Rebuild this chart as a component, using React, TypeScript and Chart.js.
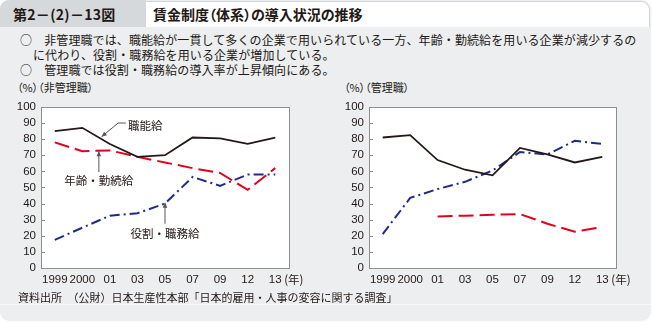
import React, { useEffect, useRef } from "react";
import { Chart, registerables } from "chart.js";

Chart.register(...registerables);

// ---- data ----
const categories = ["1999", "2000", "01", "03", "05", "07", "09", "12", "13"];
const nonMgrShokuno = [85, 87, 77, 69, 70, 81, 80.5, 77, 81];
const nonMgrNenrei = [78, 72.5, 73, 69, 65.5, 62, 59, 48.5, 62];
const nonMgrYakuwari = [17.5, 25, 32.5, 34, 40, 56.5, 51, 58, 58];
const mgrShokuno = [81, 82.5, 67, 61, 57.5, 74.5, 70.5, 65.5, 69];
const mgrNenrei = [null, null, 32, 32.5, 33, 33.5, 27.5, 22.5, 25.5];
const mgrYakuwari = [21, 43.5, 49, 53.5, 60.5, 72, 70.5, 79, 77];
const yMin = 0;
const yMax = 100;
const yStep = 10;

const seriesNames = ["職能給", "年齢・勤続給", "役割・職務給"];

const INK = "#231815";
const RED = "#e2001a";
const BLUE = "#1f2a8a";
const JP = "'Noto Sans CJK JP', 'Noto Sans', sans-serif";
const NUM = "'Liberation Sans', Arial, 'Noto Sans CJK JP', sans-serif";

type Note = {
  text: string;
  tip: [number, number];
  from: [number, number];
  elbow?: [number, number];
  textAt: [number, number];
  align: "left" | "center";
};

// label callouts (in data coordinates: category index, value)
const nonMgrNotes: Note[] = [
  { text: seriesNames[0], tip: [1.7, 81.5], elbow: [2.3, 90], from: [2.58, 90], textAt: [2.66, 88.5], align: "left" },
  { text: seriesNames[1], tip: [1.6, 72.5], from: [1.6, 59.5], textAt: [1.6, 54.5], align: "center" },
  { text: seriesNames[2], tip: [4.0, 40.5], from: [4.0, 27.5], textAt: [4.0, 21.5], align: "center" },
];

function arrowHead(ctx: CanvasRenderingContext2D, x0: number, y0: number, x1: number, y1: number) {
  const ang = Math.atan2(y1 - y0, x1 - x0);
  const len = 5;
  const hw = 2.3;
  ctx.beginPath();
  ctx.moveTo(x1, y1);
  ctx.lineTo(x1 - len * Math.cos(ang) + hw * Math.sin(ang), y1 - len * Math.sin(ang) - hw * Math.cos(ang));
  ctx.lineTo(x1 - len * Math.cos(ang) - hw * Math.sin(ang), y1 - len * Math.sin(ang) + hw * Math.cos(ang));
  ctx.closePath();
  ctx.fill();
}

const framePlugin = {
  id: "frameAndNotes",
  beforeDraw(chart: any) {
    const { ctx, chartArea: a } = chart;
    ctx.save();
    ctx.fillStyle = "#ffffff";
    ctx.fillRect(a.left, a.top, a.right - a.left, a.bottom - a.top);
    ctx.restore();
  },
  afterDraw(chart: any) {
    const { ctx, chartArea: a, scales } = chart;
    const xs = scales.x;
    const ys = scales.y;
    ctx.save();
    // frame
    ctx.strokeStyle = "#8e8e8e";
    ctx.lineWidth = 1;
    ctx.strokeRect(Math.round(a.left) + 0.5, Math.round(a.top) + 0.5, Math.round(a.right - a.left), Math.round(a.bottom - a.top));
    // inward y ticks
    ctx.beginPath();
    ys.ticks.forEach((_t: any, i: number) => {
      const py = Math.round(ys.getPixelForTick(i)) + 0.5;
      ctx.moveTo(a.left, py);
      ctx.lineTo(a.left + 4, py);
    });
    ctx.stroke();
    // (年)
    ctx.fillStyle = INK;
    ctx.font = `11.5px ${JP}`;
    ctx.textBaseline = "middle";
    ctx.textAlign = "left";
    const lastX = xs.getPixelForValue(categories.length - 1);
    ctx.fillText("(年)", lastX + 9, a.bottom + 12);
    // notes
    const notes: Note[] = chart.options.plugins.frameAndNotes?.notes || [];
    notes.forEach((n) => {
      const px = (p: [number, number]) => [xs.getPixelForValue(p[0]), ys.getPixelForValue(p[1])];
      const [tx, ty] = px(n.tip);
      const [fx, fy] = px(n.from);
      ctx.strokeStyle = "#555555";
      ctx.fillStyle = "#555555";
      ctx.lineWidth = 1;
      ctx.beginPath();
      ctx.moveTo(fx, fy);
      let lx = fx, ly = fy;
      if (n.elbow) {
        const [ex, ey] = px(n.elbow);
        ctx.lineTo(ex, ey);
        lx = ex; ly = ey;
      }
      ctx.lineTo(tx, ty);
      ctx.stroke();
      arrowHead(ctx, lx, ly, tx, ty);
      const [qx, qy] = px(n.textAt);
      ctx.fillStyle = INK;
      ctx.font = `11.5px ${JP}`;
      ctx.textAlign = n.align;
      ctx.textBaseline = "middle";
      ctx.fillText(n.text, qx, qy);
    });
    ctx.restore();
  },
};

function makeConfig(shokuno: (number | null)[], nenrei: (number | null)[], yakuwari: (number | null)[], yAxisWidth: number, padRight: number, notes: Note[]) {
  return {
    type: "line" as const,
    data: {
      labels: categories,
      datasets: [
        { label: seriesNames[0], data: shokuno, borderColor: INK, borderWidth: 1.8, pointRadius: 0, tension: 0, fill: false },
        { label: seriesNames[1], data: nenrei, borderColor: RED, borderWidth: 2, borderDash: [15, 6], pointRadius: 0, tension: 0, fill: false, spanGaps: false },
        { label: seriesNames[2], data: yakuwari, borderColor: BLUE, borderWidth: 2, borderDash: [10, 4, 2, 4], pointRadius: 0, tension: 0, fill: false },
      ],
    },
    options: {
      animation: false,
      responsive: false,
      maintainAspectRatio: false,
      layout: { padding: { left: 0, right: padRight, top: 8, bottom: 5 } },
      plugins: {
        legend: { display: false },
        tooltip: { enabled: false },
        frameAndNotes: { notes },
      },
      scales: {
        x: {
          type: "category",
          offset: true,
          grid: { display: false, drawTicks: false, tickLength: 0 },
          border: { display: false },
          ticks: { autoSkip: false, maxRotation: 0, minRotation: 0, padding: 5, color: INK, font: { family: NUM, size: 11.5 } },
          afterFit: (s: any) => { s.height = 22; },
        },
        y: {
          min: yMin,
          max: yMax,
          grid: { display: false, drawTicks: false, tickLength: 0 },
          border: { display: false },
          ticks: { stepSize: yStep, autoSkip: false, padding: 5, color: INK, font: { family: NUM, size: 11.5 } },
          afterFit: (s: any) => { s.width = yAxisWidth; },
        },
      },
    },
    plugins: [framePlugin],
  };
}

function LineChart(props: { cfg: any; style: React.CSSProperties; w: number; h: number }) {
  const ref = useRef<HTMLCanvasElement | null>(null);
  useEffect(() => {
    if (!ref.current) return;
    const c = new Chart(ref.current, props.cfg);
    return () => c.destroy();
  }, []);
  return <canvas ref={ref} width={props.w} height={props.h} style={{ position: "absolute", width: props.w, height: props.h, ...props.style }} />;
}

export default function App() {
  const leftCfg = makeConfig(nonMgrShokuno, nonMgrNenrei, nonMgrYakuwari, 41, 31, nonMgrNotes);
  const rightCfg = makeConfig(mgrShokuno, mgrNenrei, mgrYakuwari, 43, 30, []);
  const txt = (extra: React.CSSProperties): React.CSSProperties => ({
    position: "absolute",
    whiteSpace: "nowrap",
    fontFamily: JP,
    color: INK,
    ...extra,
  });
  return (
    <div style={{ position: "absolute", left: 0, top: 0, width: 652, height: 322, overflow: "hidden", background: "#ffffff" }}>
      <div style={{ position: "absolute", left: 0, top: 0, width: 651, height: 321, background: "#eceeef", borderRadius: 9 }} />
      <div style={{ position: "absolute", left: 0, top: 304, width: 651, height: 1, background: "#f7f8f8" }} />
      {/* title bar */}
      <div style={{ position: "absolute", left: 0, top: 0, width: 146, height: 27, background: "#d6d9db", borderTopLeftRadius: 9 }} />
      <div style={{ position: "absolute", left: 146, top: 1, width: 503, height: 25, background: "#ffffff", borderTop: "1px solid #d2d5d7", borderRight: "1px solid #d2d5d7", borderTopRightRadius: 9 }} />
      <div style={txt({ left: 13, top: 4, fontSize: 14, lineHeight: "20px", fontWeight: 700, letterSpacing: 0.3 })}>第2－(2)－13図</div>
      <div style={txt({ left: 153, top: 4, fontSize: 14, lineHeight: "20px", fontWeight: 700, fontFeatureSettings: '"palt"' })}>賃金制度（体系）の導入状況の推移</div>
      {/* lead text */}
      <div style={txt({ left: 20, top: 32, fontSize: 12, lineHeight: "16px", letterSpacing: 0.1 })}>○　非管理職では、職能給が一貫して多くの企業で用いられている一方、年齢・勤続給を用いる企業が減少するの</div>
      <div style={txt({ left: 33, top: 47, fontSize: 12, lineHeight: "16px", letterSpacing: 0.1 })}>に代わり、役割・職務給を用いる企業が増加している。</div>
      <div style={txt({ left: 20, top: 62, fontSize: 12, lineHeight: "16px", letterSpacing: 0.1 })}>○　管理職では役割・職務給の導入率が上昇傾向にある。</div>
      {/* panel headers */}
      <div style={txt({ left: 17, top: 80, fontSize: 11, lineHeight: "14px", fontFeatureSettings: '"palt"' })}>（%）（非管理職）</div>
      <div style={txt({ left: 344, top: 80, fontSize: 11, lineHeight: "14px", fontFeatureSettings: '"palt"' })}>（%）（管理職）</div>
      <LineChart cfg={leftCfg} w={320} h={200} style={{ left: 0, top: 95 }} />
      <LineChart cfg={rightCfg} w={320} h={200} style={{ left: 326, top: 95 }} />
      <div style={txt({ left: 18, top: 290, fontSize: 11, lineHeight: "14px" })}>資料出所　（公財）日本生産性本部「日本的雇用・人事の変容に関する調査」</div>
    </div>
  );
}
